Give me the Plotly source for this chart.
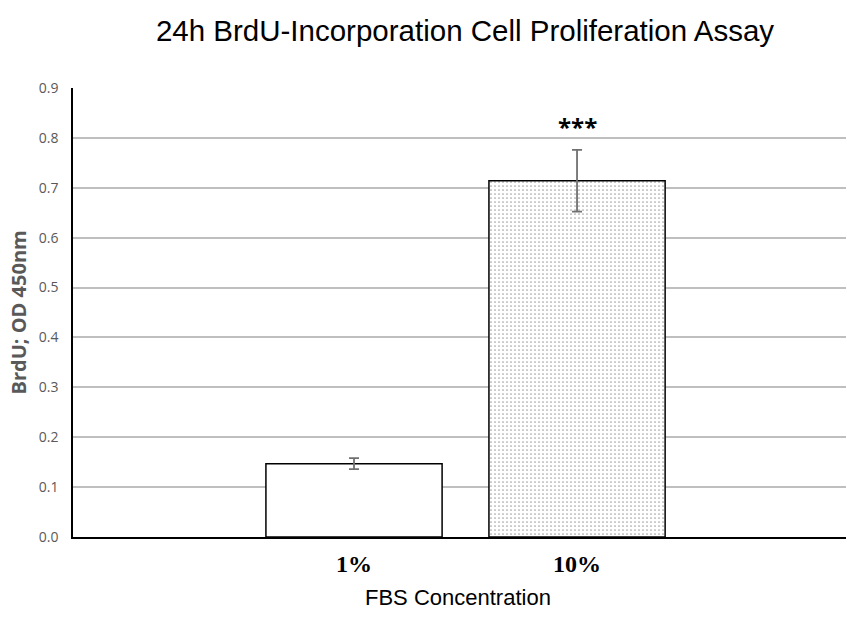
import plotly.graph_objects as go

categories = ["1%", "10%"]
values = [0.147, 0.714]
errors = [0.011, 0.062]
y_ticks = [0.0, 0.1, 0.2, 0.3, 0.4, 0.5, 0.6, 0.7, 0.8, 0.9]
y_tick_labels = ["0.0", "0.1", "0.2", "0.3", "0.4", "0.5", "0.6", "0.7", "0.8", "0.9"]
x_pos = [0, 1]

fig = go.Figure()
fig.add_trace(go.Bar(
    x=x_pos, y=values, width=0.79,
    marker=dict(
        color=["white", "white"],
        line=dict(color="black", width=1.5),
        pattern=dict(shape=["", "."], size=4, solidity=0.14, fgcolor="#333333", bgcolor="white", fillmode="overlay"),
    ),
    error_y=dict(type="data", array=errors, visible=True, color="#707070", thickness=1.8, width=5),
    showlegend=False,
))

fig.add_annotation(x=1, y=values[1] + errors[1], yshift=5, text="<b>***</b>", showarrow=False,
                   yanchor="bottom", font=dict(family="Open Sans", size=24, color="black"))

fig.add_annotation(xref="paper", yref="paper", x=(458 - 73) / 773, y=-60 / 449,
                   text="FBS Concentration", showarrow=False, xanchor="center", yanchor="middle",
                   font=dict(family="Liberation Sans", size=22, color="black"))

fig.add_annotation(xref="paper", yref="paper", x=-(73 - 18) / 773, y=0.5, textangle=-90,
                   text="<b>BrdU; OD 450nm</b>", showarrow=False, xanchor="center", yanchor="middle",
                   font=dict(family="Open Sans", size=20, color="#595959"))

fig.update_layout(
    width=847, height=623,
    margin=dict(l=73, r=1, t=88, b=86),
    paper_bgcolor="white", plot_bgcolor="white",
    title=dict(text="24h BrdU-Incorporation Cell Proliferation Assay", x=465/847, xanchor="center",
               y=1 - 31/623, yanchor="middle",
               font=dict(family="Liberation Sans", size=29.5, color="black")),
    xaxis=dict(range=[-1.26, 2.206], tickvals=x_pos, ticktext=categories, showgrid=False,
               showline=True, linecolor="black", linewidth=1.5, ticks="", ticklabelstandoff=4,
               tickfont=dict(family="Liberation Serif", size=24, color="black", weight="bold"),
               zeroline=False),
    yaxis=dict(range=[0, 0.9], tickvals=y_ticks, ticktext=y_tick_labels, showgrid=True,
               gridcolor="#bfbfbf", gridwidth=1.5, showline=True, linecolor="black", linewidth=1.5,
               ticks="", ticklabelstandoff=10,
               tickfont=dict(family="Open Sans", size=14, color="#595959"),
               zeroline=False),
)

fig.write_html("out.html")
